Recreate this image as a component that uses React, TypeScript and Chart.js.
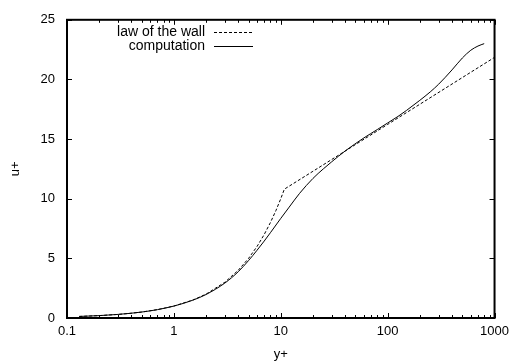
import React, { useEffect, useRef } from 'react';
import { Chart, registerables } from 'chart.js';
Chart.register(...registerables);

// law of the wall (dashed)
const wallY = [0.13, 0.2, 0.3, 0.4, 0.5, 0.7, 1, 1.5, 2, 3, 4, 5, 6, 7, 8, 9, 10, 10.8, 20, 50, 100, 200, 500, 1000];
const wallU = [0.13, 0.2, 0.3, 0.4, 0.5, 0.7, 1, 1.5, 2, 3, 4, 5, 6, 7, 8, 9, 10, 10.8, 12.3, 14.54, 16.23, 17.92, 20.16, 21.85];

// computation (solid)
const compY = [0.13, 0.2, 0.3, 0.5, 0.7, 1, 1.5, 2, 3, 4, 5, 6, 7, 8, 10, 12, 15, 20, 25, 30, 40, 60, 80, 100, 125, 150, 200, 250, 300, 400, 500, 600, 700, 800];
const compU = [0.13, 0.2, 0.3, 0.5, 0.7, 1.0, 1.49, 1.97, 2.93, 3.88, 4.82, 5.68, 6.45, 7.15, 8.35, 9.3, 10.45, 11.7, 12.5, 13.1, 14.0, 15.1, 15.8, 16.35, 16.9, 17.4, 18.25, 18.95, 19.6, 20.8, 21.8, 22.45, 22.8, 23.0];

const xTickValues = [0.1, 1, 10, 100, 1000];
const xTickLabels = ['0.1', '1', '10', '100', '1000'];
const yTickValues = [0, 5, 10, 15, 20, 25];

const FONT = '"Liberation Sans", Arial, Helvetica, sans-serif';

const framePlugin = {
  id: 'frame',
  afterDatasetsDraw(chart: any) {
    const { ctx, chartArea: a, scales } = chart;
    const x = scales.x;
    const y = scales.y;
    ctx.save();
    ctx.strokeStyle = '#000';
    ctx.lineWidth = 1;
    ctx.beginPath();
    const major = 5;
    const minor = 3;
    for (const v of xTickValues) {
      const px = Math.round(x.getPixelForValue(v)) + 0.5;
      ctx.moveTo(px, a.bottom); ctx.lineTo(px, a.bottom - major);
      ctx.moveTo(px, a.top); ctx.lineTo(px, a.top + major);
    }
    for (let d = 0; d < xTickValues.length - 1; d++) {
      for (let m = 2; m <= 9; m++) {
        const v = xTickValues[d] * m;
        const px = Math.round(x.getPixelForValue(v)) + 0.5;
        ctx.moveTo(px, a.bottom); ctx.lineTo(px, a.bottom - minor);
        ctx.moveTo(px, a.top); ctx.lineTo(px, a.top + minor);
      }
    }
    for (const v of yTickValues) {
      const py = Math.round(y.getPixelForValue(v)) + 0.5;
      ctx.moveTo(a.left, py); ctx.lineTo(a.left + major, py);
      ctx.moveTo(a.right, py); ctx.lineTo(a.right - major, py);
    }
    ctx.stroke();
    ctx.lineWidth = 2;
    ctx.strokeRect(a.left, a.top, a.right - a.left, a.bottom - a.top);

    // legend
    ctx.font = '14px ' + FONT;
    ctx.fillStyle = '#000';
    ctx.textAlign = 'right';
    ctx.textBaseline = 'middle';
    const textRight = a.left + 138;
    const sx0 = a.left + 147;
    const sx1 = a.left + 186;
    chart.data.datasets.forEach((ds: any, i: number) => {
      const ry = a.top + 12 + i * 14.5;
      ctx.fillText(ds.label, textRight, ry);
      ctx.lineWidth = 1;
      ctx.setLineDash(ds.borderDash || []);
      ctx.beginPath();
      ctx.moveTo(sx0, Math.round(ry) + 0.5);
      ctx.lineTo(sx1, Math.round(ry) + 0.5);
      ctx.stroke();
      ctx.setLineDash([]);
    });
    ctx.restore();
  },
};

export default function App() {
  const ref = useRef<HTMLCanvasElement | null>(null);
  useEffect(() => {
    if (!ref.current) return;
    Chart.defaults.color = '#000';
    Chart.defaults.font.family = FONT;
    const chart = new Chart(ref.current, {
      type: 'scatter',
      data: {
        datasets: [
          {
            label: 'law of the wall',
            data: wallY.map((v, i) => ({ x: v, y: wallU[i] })),
            showLine: true,
            borderColor: '#000',
            borderWidth: 1,
            borderDash: [3, 2],
            pointRadius: 0,
            tension: 0,
          },
          {
            label: 'computation',
            data: compY.map((v, i) => ({ x: v, y: compU[i] })),
            showLine: true,
            borderColor: '#000',
            borderWidth: 1,
            pointRadius: 0,
            cubicInterpolationMode: 'monotone',
          },
        ],
      } as any,
      options: {
        responsive: false,
        animation: false,
        devicePixelRatio: 1,
        layout: { padding: { top: 15, right: 18, left: 0, bottom: 0 } },
        plugins: { legend: { display: false }, tooltip: { enabled: false } },
        scales: {
          x: {
            type: 'logarithmic',
            min: 0.1,
            max: 1000,
            afterBuildTicks: (s: any) => {
              s.ticks = xTickValues.map((v) => ({ value: v }));
            },
            afterFit: (s: any) => {
              s.height = 44;
            },
            ticks: {
              autoSkip: false,
              maxRotation: 0,
              padding: 6,
              color: '#000',
              font: { size: 13, family: FONT },
              callback: (v: any) => {
                const i = xTickValues.indexOf(Number(v));
                return i >= 0 ? xTickLabels[i] : '';
              },
            },
            grid: { display: false, drawTicks: false },
            border: { display: false },
            title: { display: true, text: 'y+', color: '#000', font: { size: 13, family: FONT }, padding: { top: 0, bottom: 0 } },
          },
          y: {
            type: 'linear',
            min: 0,
            max: 25,
            afterFit: (s: any) => {
              s.width = 67;
            },
            ticks: { stepSize: 5, padding: 12, color: '#000', font: { size: 13, family: FONT } },
            grid: { display: false, drawTicks: false },
            border: { display: false },
            title: { display: true, text: 'u+', color: '#000', font: { size: 13, family: FONT }, padding: { top: 8, bottom: 0 } },
          },
        },
      } as any,
      plugins: [framePlugin],
    });
    return () => chart.destroy();
  }, []);
  return (
    <div style={{ position: 'absolute', left: 0, top: 0, width: 515, height: 362, background: '#fff' }}>
      <canvas ref={ref} width={515} height={362} style={{ display: 'block' }} />
    </div>
  );
}
